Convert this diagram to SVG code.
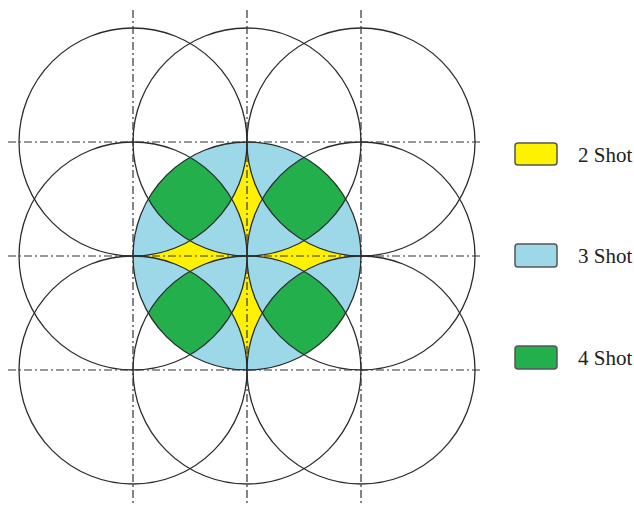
<svg xmlns="http://www.w3.org/2000/svg" width="634" height="505" viewBox="0 0 634 505">
<style>
.ring{fill:none;stroke:#2b2b2b;stroke-width:1.3}
.axis{stroke:#333;stroke-width:1.2;stroke-dasharray:8 3 2 3;fill:none}
.y{fill:#FFF200}
.b{fill:#9DD8E9}
.g{fill:#23B04C}
.key{stroke:#555;stroke-width:1.5}
.lbl{font-family:"Liberation Serif","DejaVu Serif",serif;font-size:21px;fill:#222}
</style>
<rect width="634" height="505" fill="#fff"/>
<g id="coverage">
<circle id="three-shot-area" class="b" cx="247" cy="256" r="114"/>
<g id="four-shot-areas" class="g">
<path d="M190,157.27 A114,114 0 0 1 231.73,199 A114,114 0 0 1 190,240.73 A114,114 0 0 1 148.27,199 A114,114 0 0 1 190,157.27 Z"/>
<path d="M304,157.27 A114,114 0 0 1 345.73,199 A114,114 0 0 1 304,240.73 A114,114 0 0 1 262.27,199 A114,114 0 0 1 304,157.27 Z"/>
<path d="M190,271.27 A114,114 0 0 1 231.73,313 A114,114 0 0 1 190,354.73 A114,114 0 0 1 148.27,313 A114,114 0 0 1 190,271.27 Z"/>
<path d="M304,271.27 A114,114 0 0 1 345.73,313 A114,114 0 0 1 304,354.73 A114,114 0 0 1 262.27,313 A114,114 0 0 1 304,271.27 Z"/>
</g>
<g id="two-shot-areas" class="y">
<path d="M247,142 A114,114 0 0 0 262.27,199 A114,114 0 0 0 247,256 A114,114 0 0 0 231.73,199 A114,114 0 0 0 247,142 Z"/>
<path d="M247,256 A114,114 0 0 0 262.27,313 A114,114 0 0 0 247,370 A114,114 0 0 0 231.73,313 A114,114 0 0 0 247,256 Z"/>
<path d="M133,256 A114,114 0 0 0 190,240.73 A114,114 0 0 0 247,256 A114,114 0 0 0 190,271.27 A114,114 0 0 0 133,256 Z"/>
<path d="M247,256 A114,114 0 0 0 304,240.73 A114,114 0 0 0 361,256 A114,114 0 0 0 304,271.27 A114,114 0 0 0 247,256 Z"/>
</g>
</g>
<g id="shots">
<circle class="ring" cx="133" cy="142" r="114"/>
<circle class="ring" cx="247" cy="142" r="114"/>
<circle class="ring" cx="361" cy="142" r="114"/>
<circle class="ring" cx="133" cy="256" r="114"/>
<circle class="ring" cx="247" cy="256" r="114"/>
<circle class="ring" cx="361" cy="256" r="114"/>
<circle class="ring" cx="133" cy="370" r="114"/>
<circle class="ring" cx="247" cy="370" r="114"/>
<circle class="ring" cx="361" cy="370" r="114"/>
</g>
<g id="axes">
<line class="axis" x1="133" y1="10" x2="133" y2="505"/>
<line class="axis" x1="247" y1="10" x2="247" y2="505"/>
<line class="axis" x1="361" y1="10" x2="361" y2="505"/>
<line class="axis" x1="8" y1="142" x2="483" y2="142"/>
<line class="axis" x1="8" y1="256" x2="483" y2="256"/>
<line class="axis" x1="8" y1="370" x2="483" y2="370"/>
</g>
<g id="legend-2-shot">
<rect class="y key" x="515" y="143" width="42" height="22" rx="3"/>
<text class="lbl" x="578" y="162">2 Shot</text>
</g>
<g id="legend-3-shot">
<rect class="b key" x="515" y="244" width="42" height="23" rx="3"/>
<text class="lbl" x="578" y="263">3 Shot</text>
</g>
<g id="legend-4-shot">
<rect class="g key" x="515" y="346" width="42" height="23" rx="3"/>
<text class="lbl" x="578" y="365">4 Shot</text>
</g>
</svg>
